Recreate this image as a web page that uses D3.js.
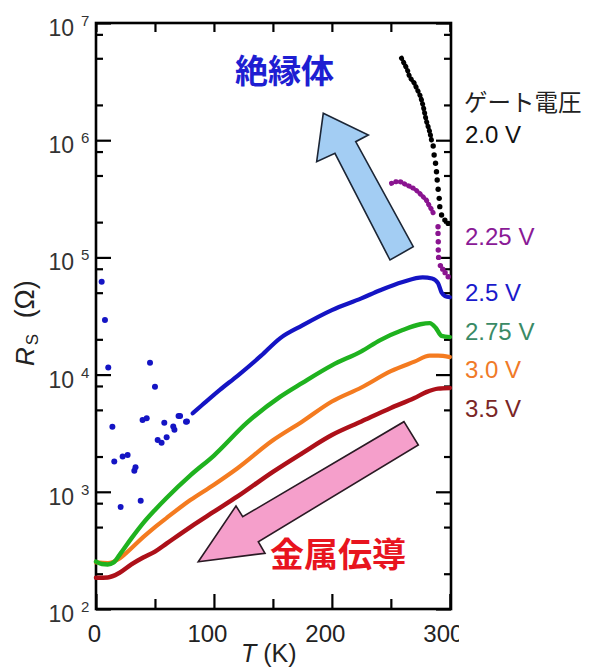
<!DOCTYPE html>
<html>
<head>
<meta charset="utf-8">
<script src="https://cdn.jsdelivr.net/npm/d3@7"></script>
<style>
body { margin: 0; background: #fff; }
</style>
</head>
<body>
<script>
// ---- values: T in K, Rs in ohm ----

// 3.5 V (dark red, solid)
var t35 = [0, 10, 20, 30, 40, 50, 60, 80, 100, 120, 150, 175, 200, 225, 250, 270, 280, 290, 300];
var r35 = [185, 186, 204, 240, 275, 309, 363, 500, 676, 912, 1480, 2140, 3050, 3980, 5190, 6310, 7080, 7590, 7690];

// 3.0 V (orange, solid)
var t30 = [0, 10, 20, 30, 40, 50, 60, 80, 100, 120, 150, 175, 200, 225, 250, 270, 283, 290, 300];
var r30 = [250, 247, 270, 330, 410, 500, 600, 850, 1150, 1590, 2750, 3980, 5890, 7760, 10700, 12900, 14500, 14500, 14100];

// 2.75 V (green, solid)
var t275 = [0, 5, 10, 15, 20, 30, 40, 50, 60, 80, 100, 128, 156, 175, 200, 225, 241, 260, 275, 283, 288, 293, 300];
var r275 = [254, 242, 240, 250, 290, 400, 540, 700, 890, 1380, 2040, 3890, 6460, 8510, 12000, 15800, 19700, 24000, 26900, 27500, 25100, 21400, 20900];

// 2.5 V (blue): continuous part and the scattered low-T points
var t25 = [82, 90, 105, 120, 140, 156, 175, 200, 225, 241, 260, 277, 285, 290, 293, 296, 300];
var r25 = [4680, 5500, 7410, 9770, 14500, 20400, 26300, 35500, 44700, 52500, 61700, 67600, 66100, 60300, 50100, 46800, 45700];
var t25pts = [4.8, 7.6, 10.4, 13.9, 15.5, 20.9, 22.6, 26.8, 32.5, 33.5, 37.9, 39.5, 43, 45.8, 50, 52.3, 55.6, 57.9, 59.9, 65.5, 66.5, 70, 71.3, 76.3, 77.1];
var r25pts = [62100, 29200, 11500, 3590, 1810, 741, 2000, 2060, 1510, 1620, 839, 4100, 4240, 12600, 7890, 2770, 2620, 3890, 2920, 3600, 3390, 4440, 4440, 3960, 3980];

// 2.25 V (purple, dots)
var t225 = [250.6, 254, 257.6, 263, 269, 273, 277, 280, 283, 285, 287];
var r225 = [428500, 441600, 442600, 416900, 389000, 363100, 331100, 309000, 271000, 251200, 223900];
var t225pts = [290, 290, 290.2, 290.2, 290.5, 292, 294, 296, 298.6];
var r225pts = [182800, 160300, 136100, 115600, 100000, 85100, 79400, 74100, 68400];

// 2.0 V (black, dots)
var t20 = [259, 262, 264, 266, 268, 270, 272, 274.6, 277.4, 280, 283, 285];
var r20 = [5010000, 4370000, 3980000, 3470000, 3240000, 3050000, 2750000, 2430000, 1950000, 1480000, 1170000, 933000];
var t20pts = [285.9, 286.7, 287.9, 288.7, 289.3, 290.1, 291, 291.5, 293, 295.8, 298.6];
var r20pts = [893000, 748000, 635000, 538000, 457000, 381000, 319000, 271000, 230000, 208000, 195000];

// tick values
var xMajor = [0, 100, 200, 300];
var xMinor = [50, 150, 250];
var yExponents = [2, 3, 4, 5, 6, 7];
var yMantissas = [2, 5, 8];

// legend texts
var gateTitle = "ゲート電圧";
var gateLabels = ["2.0 V", "2.25 V", "2.5 V", "2.75 V", "3.0 V", "3.5 V"];

// annotation arrows, in data units [T, Rs]
var arrowUp = [[192.7, 1697000], [230.9, 1108000], [220.2, 971000], [269.0, 123400], [249.3, 95000], [202.6, 773000], [187.1, 656000]];
var arrowDown = [[86.7, 253], [118.7, 757], [124.4, 613], [261.1, 3964], [273.3, 2508], [137.6, 375], [143.3, 299]];

// ---- layout ----
var width = 590, height = 670;
var box = {left: 96, right: 451, top: 23, bottom: 609};
var latin = "'Liberation Sans', Arial, sans-serif";
var cjk = "'Noto Sans CJK JP', 'Liberation Sans', sans-serif";

var svg = d3.select("body").append("svg")
    .attr("width", width)
    .attr("height", height)
    .style("background-color", "#fff");

var x = d3.scaleLinear().domain([0, 301]).range([box.left, box.right]);
var y = d3.scaleLog().domain([1e2, 1e7]).range([box.bottom, box.top]);

function zip(ts, rs) { return ts.map(function(t, i) { return {t: t, r: rs[i]}; }); }

var yMajor = yExponents.map(function(e) { return Math.pow(10, e); });
var yMinor = [];
yExponents.slice(0, -1).forEach(function(e) {
    yMantissas.forEach(function(m) { yMinor.push(m * Math.pow(10, e)); });
});

// ---- axes (ticks point inward on all four sides) ----
function styleAxis(g) {
    g.select(".domain").remove();
    g.selectAll(".tick line").attr("stroke", "#000").attr("stroke-width", 2.2);
}

svg.append("clipPath").attr("id", "xclip")
    .append("rect").attr("x", -10).attr("y", -30).attr("width", 469).attr("height", 90);

var bottom = svg.append("g")
    .attr("transform", "translate(0," + box.bottom + ")")
    .attr("clip-path", "url(#xclip)")
    .call(d3.axisBottom(x).tickValues(xMajor).tickSize(-15).tickPadding(16).tickFormat(d3.format("d")))
    .call(styleAxis);
bottom.selectAll("text")
    .attr("font-family", latin)
    .attr("font-size", 24)
    .attr("fill", "#222")
    .attr("dx", function(d) { return d === 0 ? -2 : -7; });

svg.append("g")
    .attr("transform", "translate(0," + box.bottom + ")")
    .call(d3.axisBottom(x).tickValues(xMinor).tickSize(-10).tickFormat(""))
    .call(styleAxis);

svg.append("g")
    .attr("transform", "translate(0," + box.top + ")")
    .call(d3.axisTop(x).tickValues(xMajor.concat(xMinor)).tickSize(-9).tickFormat(""))
    .call(styleAxis);

svg.append("g")
    .attr("transform", "translate(" + box.left + ",0)")
    .call(d3.axisLeft(y).tickValues(yMajor).tickSize(-15).tickFormat(""))
    .call(styleAxis);
svg.append("g")
    .attr("transform", "translate(" + box.left + ",0)")
    .call(d3.axisLeft(y).tickValues(yMinor).tickSize(-7).tickFormat(""))
    .call(styleAxis);

svg.append("g")
    .attr("transform", "translate(" + box.right + ",0)")
    .call(d3.axisRight(y).tickValues(yMajor).tickSize(-15).tickFormat(""))
    .call(styleAxis);
svg.append("g")
    .attr("transform", "translate(" + box.right + ",0)")
    .call(d3.axisRight(y).tickValues(yMinor).tickSize(-7).tickFormat(""))
    .call(styleAxis);

// frame
svg.append("rect")
    .attr("x", box.left).attr("y", box.top)
    .attr("width", box.right - box.left).attr("height", box.bottom - box.top)
    .attr("fill", "none").attr("stroke", "#000").attr("stroke-width", 2.6);

// y tick labels: 10 with raised exponent
var ylab = svg.append("g").attr("font-family", latin).attr("fill", "#333");
yExponents.forEach(function(e) {
    var yy = y(Math.pow(10, e));
    ylab.append("text").attr("x", 74).attr("y", yy + 13)
        .attr("text-anchor", "end").attr("font-size", 23).text("10");
    ylab.append("text").attr("x", 81).attr("y", yy + 3)
        .attr("font-size", 15).text(e);
});

// axis titles
var xt = svg.append("text").attr("x", 241).attr("y", 662)
    .attr("font-family", latin).attr("font-size", 25).attr("fill", "#222");
xt.append("tspan").attr("font-style", "italic").text("T");
xt.append("tspan").text(" (K)");

var yt = svg.append("text").attr("transform", "translate(34,366) rotate(-90)")
    .attr("font-family", latin).attr("fill", "#222");
yt.append("tspan").attr("font-style", "italic").attr("font-size", 26).text("R");
yt.append("tspan").attr("font-size", 17).attr("dx", 2).attr("dy", 4).text("S");
yt.append("tspan").attr("font-size", 27).attr("dx", 8).attr("dy", -4).text(" (Ω)");

// ---- annotation arrows ----
var poly = d3.line().x(function(d) { return x(d[0]); }).y(function(d) { return y(d[1]); });
svg.append("path")
    .attr("d", poly(arrowUp) + "Z")
    .attr("fill", "#a3cdf3").attr("stroke", "#1c2636").attr("stroke-width", 1.6)
    .attr("stroke-linejoin", "miter");
svg.append("path")
    .attr("d", poly(arrowDown) + "Z")
    .attr("fill", "#f59fcb").attr("stroke", "#2a1a24").attr("stroke-width", 1.6)
    .attr("stroke-linejoin", "miter");

svg.append("text").attr("x", 235).attr("y", 83)
    .attr("font-family", cjk).attr("font-weight", "bold").attr("font-size", 33)
    .attr("fill", "#1e1ed2").text("絶縁体");
svg.append("text").attr("x", 270).attr("y", 567)
    .attr("font-family", cjk).attr("font-weight", "bold").attr("font-size", 34)
    .attr("fill", "#e8141e").text("金属伝導");

// ---- data ----
var line = d3.line()
    .x(function(d) { return x(d.t); })
    .y(function(d) { return y(d.r); })
    .curve(d3.curveMonotoneX);

var solid = [
    {t: t35, r: r35, color: "#ad1019", w: 4.5},
    {t: t30, r: r30, color: "#f47b20", w: 4.2},
    {t: t275, r: r275, color: "#1fb21f", w: 4.4},
    {t: t25, r: r25, color: "#1414c4", w: 4.2}
];
solid.forEach(function(s) {
    svg.append("path")
        .datum(zip(s.t, s.r))
        .attr("d", line)
        .attr("fill", "none")
        .attr("stroke", s.color)
        .attr("stroke-width", s.w)
        .attr("stroke-linejoin", "round")
        .attr("stroke-linecap", "round");
});

svg.append("g").selectAll("circle")
    .data(zip(t25pts, r25pts))
    .join("circle")
    .attr("cx", function(d) { return x(d.t); })
    .attr("cy", function(d) { return y(d.r); })
    .attr("r", 3)
    .attr("fill", "#1414c4");

// dotted series: dense beaded run plus loose dots
var dotted = [
    {t: t225, r: r225, tp: t225pts, rp: r225pts, color: "#8a1490"},
    {t: t20, r: r20, tp: t20pts, rp: r20pts, color: "#000"}
];
dotted.forEach(function(s) {
    svg.append("path")
        .datum(zip(s.t, s.r))
        .attr("d", line.curve(d3.curveCatmullRom))
        .attr("fill", "none")
        .attr("stroke", s.color)
        .attr("stroke-width", 5)
        .attr("stroke-linecap", "round")
        .attr("stroke-dasharray", "0.4,4.2");
    svg.append("g").selectAll("circle")
        .data(zip(s.tp, s.rp))
        .join("circle")
        .attr("cx", function(d) { return x(d.t); })
        .attr("cy", function(d) { return y(d.r); })
        .attr("r", 2.7)
        .attr("fill", s.color);
});

// ---- gate-voltage labels ----
var labelColors = ["#111", "#8a1a96", "#1a1acb", "#3a8a66", "#f07a28", "#7a2626"];
var labelY = [143, 245, 301, 340, 378, 417];
svg.append("text").attr("x", 464).attr("y", 111)
    .attr("font-family", cjk).attr("font-size", 23.5).attr("fill", "#222")
    .text(gateTitle);
svg.append("g").selectAll("text")
    .data(gateLabels)
    .join("text")
    .attr("x", 465)
    .attr("y", function(d, i) { return labelY[i]; })
    .attr("font-family", latin)
    .attr("font-size", 24)
    .attr("fill", function(d, i) { return labelColors[i]; })
    .text(function(d) { return d; });
</script>
</body>
</html>
